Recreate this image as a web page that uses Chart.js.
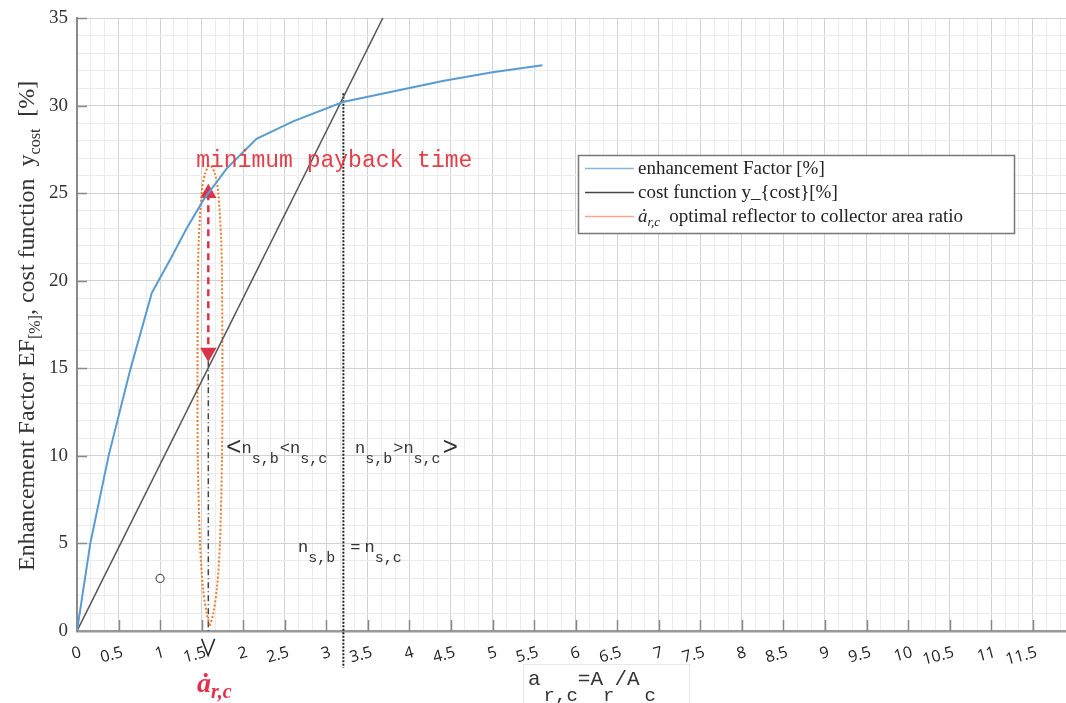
<!DOCTYPE html>
<html>
<head>
<meta charset="utf-8">
<script src="https://cdn.jsdelivr.net/npm/chart.js@4.4.0/dist/chart.umd.min.js"></script>
<style>html,body{margin:0;padding:0;background:#fff}</style>
</head>
<body>
<canvas id="myChart" width="1066" height="703"></canvas>
<script>
// enhancement factor curve (blue)
const efX = [0, 0.16, 0.38, 0.64, 0.9, 1.12, 1.32, 1.52, 1.8, 2.16, 2.6, 3.2, 3.8, 4.4, 5.0, 5.6]
const efY = [0, 5, 10, 14.9, 19.3, 21.2, 23.0, 24.6, 26.4, 28.1, 29.1, 30.2, 30.8, 31.4, 31.9, 32.3]
// cost function (black)
const costX = [0, 3.68]
const costY = [0, 35]
// orange dotted loop round the optimum
const loopX = [1.60, 1.64, 1.685, 1.72, 1.745, 1.75, 1.745, 1.735, 1.70, 1.66, 1.60, 1.54, 1.50, 1.465, 1.455, 1.45, 1.453, 1.48, 1.515, 1.56, 1.60]
const loopY = [0.3, 1.0, 2.5, 5, 10, 15, 20, 22.3, 25.0, 26.1, 26.6, 26.1, 25.0, 22.3, 20, 15, 10, 5, 2.5, 1.0, 0.3]
// red double arrow, dash-dot drop line and the V under the axis
const arrowX = [1.58, 1.58]
const arrowY = [25.0, 15.9]
const dropX = [1.58, 1.58]
const dropY = [15.4, 0]
const vX = [1.50, 1.578, 1.656]
const vY = [-0.45, -1.4, -0.45]
// dotted line at the intersection
const crossX = [3.205, 3.205]
const crossY = [30.7, -2.1]
// small circle
const markX = [1.0]
const markY = [3.0]

const xTickLabels = ['0','0.5','1','1.5','2','2.5','3','3.5','4','4.5','5','5.5','6','6.5','7','7.5','8','8.5','9','9.5','10','10.5','11','11.5']
const yTickLabels = ['0','5','10','15','20','25','30','35']

const pts = (xs, ys) => xs.map((x, i) => ({x: x, y: ys[i]}))

const ctx = document.getElementById('myChart')

const sp = (c, parts, x, y, color) => {
  c.fillStyle = color
  c.textBaseline = 'alphabetic'
  c.textAlign = 'left'
  for (const p of parts) {
    c.font = p[1]
    c.fillText(p[0], x, y + (p[2] || 0))
    x += c.measureText(p[0]).width + (p[3] || 0)
  }
  return x
}

const extras = {
  id: 'extras',
  beforeDatasetsDraw(chart) {
    const c = chart.ctx, xs = chart.scales.x, ys = chart.scales.y
    c.save()
    c.strokeStyle = '#888'
    c.lineWidth = 1.5
    xs.ticks.forEach((t, i) => {
      if (i % 3 !== 0 || i === 0) return
      const px = Math.round(xs.getPixelForValue(t.value)) + 0.5
      c.beginPath(); c.moveTo(px, ys.bottom); c.lineTo(px, ys.bottom - 11); c.stroke()
    })
    ys.ticks.forEach((t, i) => {
      if (t.value % 5 !== 0 || i === 0) return
      const py = Math.round(ys.getPixelForValue(t.value)) + 0.5
      c.beginPath(); c.moveTo(xs.left, py); c.lineTo(xs.left + 10, py); c.stroke()
    })
    c.restore()
  },
  afterDraw(chart) {
    const c = chart.ctx, xs = chart.scales.x, ys = chart.scales.y
    const X = v => xs.getPixelForValue(v), Y = v => ys.getPixelForValue(v)
    c.save()
    const mono = s => s + 'px "Liberation Mono", "Courier New", monospace'
    const serif = s => s + 'px "Liberation Serif", "Times New Roman", serif'
    const iserif = s => 'italic ' + serif(s)

    sp(c, [['minimum payback time', mono(23)]], X(1.435), Y(26.5), '#e0404a')

    sp(c, [['<', mono(26), 2], ['n', mono(17)], ['s,b', mono(15), 10, 1], ['<', mono(17)], ['n', mono(17)], ['s,c', mono(15), 10]],
      X(1.793), Y(10.17), '#333')
    sp(c, [['n', mono(17)], ['s,b', mono(15), 10, 1], ['>', mono(17)], ['n', mono(17)], ['s,c', mono(15), 10, 2], ['>', mono(26), 2]],
      X(3.345), Y(10.17), '#333')
    sp(c, [['n', mono(17)], ['s,b', mono(15), 10, 15], ['=', mono(17), 0, 4], ['n', mono(17)], ['s,c', mono(15), 10]],
      X(2.66), Y(4.53), '#333')

    // red label under the axis
    sp(c, [['\u0227', 'bold ' + iserif(28)], ['r,c', 'bold ' + iserif(20), 6]], X(1.444), 692, '#e0304a')

    // x axis title
    c.strokeStyle = '#e8e8e8'; c.lineWidth = 1
    c.strokeRect(523.5, 664.5, 166, 40)
    sp(c, [['a', mono(21), 0, 3], ['r,c', mono(19), 16], ['=A', mono(21)], ['r', mono(19), 16], ['/A', mono(21), 0, 5], ['c', mono(19), 16]],
      528, 685, '#333')

    // y axis title
    c.translate(34, 571)
    c.rotate(-Math.PI / 2)
    sp(c, [['Enhancement Factor EF', serif(24)], ['[%]', serif(16), 6], [', cost function  y', serif(24)], ['cost', serif(16), 6], ['  [%]', serif(24)]],
      0, 0, '#333')
    c.setTransform(1, 0, 0, 1, 0, 0)

    // legend box
    const bx = 578, by = 155, bw = 436, bh = 78
    c.fillStyle = '#fff'
    c.fillRect(bx, by, bw, bh)
    c.strokeStyle = '#777'; c.lineWidth = 1.5
    c.strokeRect(bx + 0.5, by + 0.5, bw, bh)
    const legCols = ['#86b7e0', '#444', '#f6a88e']
    const rows = [168, 192, 216]
    chart.data.datasets.slice(0, 3).forEach((d, i) => {
      c.strokeStyle = legCols[i]; c.lineWidth = 1.5
      c.beginPath(); c.moveTo(585, rows[i] + 0.5); c.lineTo(634, rows[i] + 0.5); c.stroke()
      if (i < 2) {
        sp(c, [[d.label, serif(19)]], 638, rows[i] + 6, '#222')
      } else {
        sp(c, [['\u0227', iserif(19)], ['r,c', iserif(13), 4, 9], [d.label, serif(19)]], 638, rows[i] + 6, '#222')
      }
    })
    c.restore()
  }
}

new Chart(ctx, {
  type: 'scatter',
  data: {
    datasets: [
      {
        label: 'enhancement Factor [%]',
        data: pts(efX, efY),
        showLine: true, borderColor: '#5a9bd0', borderWidth: 2, pointRadius: 0
      },
      {
        label: 'cost function y_{cost}[%]',
        data: pts(costX, costY),
        showLine: true, borderColor: '#555', borderWidth: 1.5, pointRadius: 0
      },
      {
        label: 'optimal reflector to collector area ratio',
        data: pts(loopX, loopY),
        showLine: true, borderColor: '#f07a2a', borderWidth: 2, borderDash: [2, 2], pointRadius: 0, tension: 0.3
      },
      {
        label: 'arrow',
        data: pts(arrowX, arrowY),
        showLine: true, borderColor: '#d8344a', borderWidth: 2.5, borderDash: [7, 5],
        pointStyle: 'triangle', pointRadius: 7, pointRotation: [0, 180],
        pointBackgroundColor: '#d8344a', pointBorderColor: '#d8344a'
      },
      {
        label: 'drop',
        data: pts(dropX, dropY),
        showLine: true, borderColor: '#444', borderWidth: 1.5, borderDash: [6, 3, 1, 3], pointRadius: 0
      },
      {
        label: 'v',
        data: pts(vX, vY),
        showLine: true, borderColor: '#222', borderWidth: 1.5, pointRadius: 0, clip: false
      },
      {
        label: 'cross',
        data: pts(crossX, crossY),
        showLine: true, borderColor: '#222', borderWidth: 2, borderDash: [2, 1.5], pointRadius: 0, clip: false
      },
      {
        label: 'mark',
        data: pts(markX, markY),
        pointRadius: 4, pointBorderColor: '#555', pointBackgroundColor: '#fff', pointBorderWidth: 1.2
      }
    ]
  },
  options: {
    responsive: false,
    animation: false,
    events: [],
    layout: { autoPadding: false, padding: { top: 18, left: 0, right: 0, bottom: 0 } },
    plugins: { legend: { display: false }, tooltip: { enabled: false } },
    scales: {
      x: {
        type: 'linear', min: 0, max: 11.9,
        afterBuildTicks: s => {
          const t = []
          for (let k = 0; k <= 71; k++) t.push({ value: k / 6 })
          s.ticks = t
        },
        afterFit: s => { s.height = 72; s.paddingLeft = 0; s.paddingRight = 0 },
        grid: {
          drawTicks: false,
          color: c => (c.index % 3 === 0 ? '#d2d2d2' : '#ececec'),
          lineWidth: 1
        },
        border: { color: '#999', width: 2.5 },
        ticks: {
          autoSkip: false, minRotation: 15, maxRotation: 15, padding: 12, labelOffset: 4,
          color: '#222', font: { family: 'Open Sans', size: 16 },
          callback: (v, i) => (i % 3 === 0 ? xTickLabels[i / 3] : '')
        }
      },
      y: {
        type: 'linear', min: 0, max: 35,
        afterBuildTicks: s => {
          const t = []
          for (let k = 0; k <= 35; k++) t.push({ value: k })
          s.ticks = t
        },
        afterFit: s => { s.width = 77; s.paddingTop = 0; s.paddingBottom = 0 },
        grid: {
          drawTicks: false,
          color: c => (c.index % 5 === 0 ? '#d2d2d2' : '#ececec'),
          lineWidth: 1
        },
        border: { color: '#8a8a8a', width: 2 },
        ticks: {
          autoSkip: false, padding: 9,
          color: '#333', font: { family: 'Liberation Serif', size: 19 },
          callback: (v, i) => (i % 5 === 0 ? yTickLabels[i / 5] : '')
        }
      }
    }
  },
  plugins: [extras]
})
</script>
</body>
</html>
